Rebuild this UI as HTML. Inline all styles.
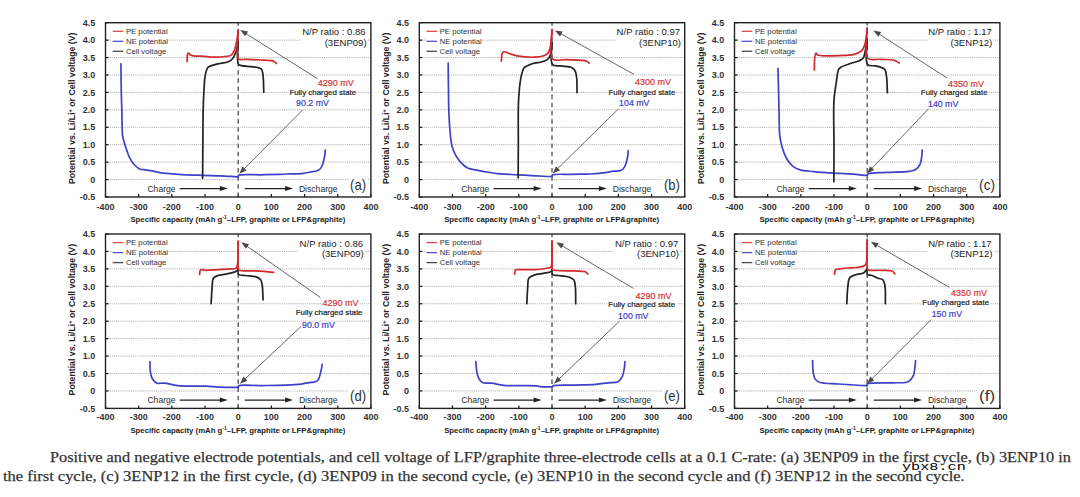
<!DOCTYPE html>
<html><head><meta charset="utf-8"><style>
html,body{margin:0;padding:0;background:#fff;width:1080px;height:497px;overflow:hidden}
svg{position:absolute;left:0;top:0}
svg text{font-family:"Liberation Sans",sans-serif}
.cap{position:absolute;font-family:"Liberation Serif",serif;font-size:15.4px;transform-origin:0 0;color:#333;-webkit-text-stroke:0.25px #333;white-space:nowrap;line-height:19px}
.wm{position:absolute;font-family:"Liberation Mono",monospace;font-size:11px;line-height:15px;transform-origin:0 0;color:#000;white-space:nowrap;text-shadow:0 0 1px #fff,1px 0 0 #fff,-1px 0 0 #fff,0 1px 0 #fff,0 -1px 0 #fff}
</style></head><body>
<svg width="1080" height="497" viewBox="0 0 1080 497">
<line x1="105.5" y1="179.57" x2="370.9" y2="179.57" stroke="#b4b4b4" stroke-width="1" stroke-dasharray="1.2 0.9"/>
<line x1="105.5" y1="162.14" x2="370.9" y2="162.14" stroke="#b4b4b4" stroke-width="1" stroke-dasharray="1.2 0.9"/>
<line x1="105.5" y1="144.71" x2="370.9" y2="144.71" stroke="#b4b4b4" stroke-width="1" stroke-dasharray="1.2 0.9"/>
<line x1="105.5" y1="127.28" x2="370.9" y2="127.28" stroke="#b4b4b4" stroke-width="1" stroke-dasharray="1.2 0.9"/>
<line x1="105.5" y1="109.85" x2="370.9" y2="109.85" stroke="#b4b4b4" stroke-width="1" stroke-dasharray="1.2 0.9"/>
<line x1="105.5" y1="92.42" x2="370.9" y2="92.42" stroke="#b4b4b4" stroke-width="1" stroke-dasharray="1.2 0.9"/>
<line x1="105.5" y1="74.99" x2="370.9" y2="74.99" stroke="#b4b4b4" stroke-width="1" stroke-dasharray="1.2 0.9"/>
<line x1="105.5" y1="57.56" x2="370.9" y2="57.56" stroke="#b4b4b4" stroke-width="1" stroke-dasharray="1.2 0.9"/>
<line x1="105.5" y1="40.13" x2="370.9" y2="40.13" stroke="#b4b4b4" stroke-width="1" stroke-dasharray="1.2 0.9"/>
<line x1="105.5" y1="197" x2="108.5" y2="197" stroke="#111" stroke-width="1.2"/>
<text x="95.3" y="200.2" font-size="9" fill="#333" text-anchor="end" font-weight="bold" >-0.5</text>
<line x1="105.5" y1="179.57" x2="108.5" y2="179.57" stroke="#111" stroke-width="1.2"/>
<text x="95.3" y="182.77" font-size="9" fill="#333" text-anchor="end" font-weight="bold" >0</text>
<line x1="105.5" y1="162.14" x2="108.5" y2="162.14" stroke="#111" stroke-width="1.2"/>
<text x="95.3" y="165.34" font-size="9" fill="#333" text-anchor="end" font-weight="bold" >0.5</text>
<line x1="105.5" y1="144.71" x2="108.5" y2="144.71" stroke="#111" stroke-width="1.2"/>
<text x="95.3" y="147.91" font-size="9" fill="#333" text-anchor="end" font-weight="bold" >1.0</text>
<line x1="105.5" y1="127.28" x2="108.5" y2="127.28" stroke="#111" stroke-width="1.2"/>
<text x="95.3" y="130.48" font-size="9" fill="#333" text-anchor="end" font-weight="bold" >1.5</text>
<line x1="105.5" y1="109.85" x2="108.5" y2="109.85" stroke="#111" stroke-width="1.2"/>
<text x="95.3" y="113.05" font-size="9" fill="#333" text-anchor="end" font-weight="bold" >2.0</text>
<line x1="105.5" y1="92.42" x2="108.5" y2="92.42" stroke="#111" stroke-width="1.2"/>
<text x="95.3" y="95.62" font-size="9" fill="#333" text-anchor="end" font-weight="bold" >2.5</text>
<line x1="105.5" y1="74.99" x2="108.5" y2="74.99" stroke="#111" stroke-width="1.2"/>
<text x="95.3" y="78.19" font-size="9" fill="#333" text-anchor="end" font-weight="bold" >3.0</text>
<line x1="105.5" y1="57.56" x2="108.5" y2="57.56" stroke="#111" stroke-width="1.2"/>
<text x="95.3" y="60.76" font-size="9" fill="#333" text-anchor="end" font-weight="bold" >3.5</text>
<line x1="105.5" y1="40.13" x2="108.5" y2="40.13" stroke="#111" stroke-width="1.2"/>
<text x="95.3" y="43.33" font-size="9" fill="#333" text-anchor="end" font-weight="bold" >4.0</text>
<line x1="105.5" y1="22.7" x2="108.5" y2="22.7" stroke="#111" stroke-width="1.2"/>
<text x="95.3" y="25.9" font-size="9" fill="#333" text-anchor="end" font-weight="bold" >4.5</text>
<line x1="105.5" y1="197" x2="105.5" y2="194" stroke="#111" stroke-width="1.2"/>
<text x="105.5" y="209.8" font-size="9" fill="#333" text-anchor="middle" font-weight="bold" >-400</text>
<line x1="138.68" y1="197" x2="138.68" y2="194" stroke="#111" stroke-width="1.2"/>
<text x="138.68" y="209.8" font-size="9" fill="#333" text-anchor="middle" font-weight="bold" >-300</text>
<line x1="171.85" y1="197" x2="171.85" y2="194" stroke="#111" stroke-width="1.2"/>
<text x="171.85" y="209.8" font-size="9" fill="#333" text-anchor="middle" font-weight="bold" >-200</text>
<line x1="205.02" y1="197" x2="205.02" y2="194" stroke="#111" stroke-width="1.2"/>
<text x="205.02" y="209.8" font-size="9" fill="#333" text-anchor="middle" font-weight="bold" >-100</text>
<line x1="238.2" y1="197" x2="238.2" y2="194" stroke="#111" stroke-width="1.2"/>
<text x="238.2" y="209.8" font-size="9" fill="#333" text-anchor="middle" font-weight="bold" >0</text>
<line x1="271.38" y1="197" x2="271.38" y2="194" stroke="#111" stroke-width="1.2"/>
<text x="271.38" y="209.8" font-size="9" fill="#333" text-anchor="middle" font-weight="bold" >100</text>
<line x1="304.55" y1="197" x2="304.55" y2="194" stroke="#111" stroke-width="1.2"/>
<text x="304.55" y="209.8" font-size="9" fill="#333" text-anchor="middle" font-weight="bold" >200</text>
<line x1="337.73" y1="197" x2="337.73" y2="194" stroke="#111" stroke-width="1.2"/>
<text x="337.73" y="209.8" font-size="9" fill="#333" text-anchor="middle" font-weight="bold" >300</text>
<line x1="370.9" y1="197" x2="370.9" y2="194" stroke="#111" stroke-width="1.2"/>
<text x="370.9" y="209.8" font-size="9" fill="#333" text-anchor="middle" font-weight="bold" >400</text>
<line x1="238.2" y1="197" x2="238.2" y2="22.7" stroke="#555" stroke-width="1.35" stroke-dasharray="4.6 3.55"/>
<path d="M120.89 63.83 C121.03 73.48 121.11 84.29 121.29 92.77 C121.44 99.41 121.68 104.68 121.82 110.55 C121.96 116.3 121.98 123 122.15 127.63 C122.27 130.8 122.22 133.15 122.59 135.65 C122.91 137.88 123.48 139.67 124.11 141.92 C124.86 144.6 125.92 147.87 126.9 150.64 C127.8 153.2 128.53 155.67 129.72 157.96 C130.88 160.2 132.24 162.4 133.9 164.23 C135.54 166.04 137.57 167.97 139.6 168.9 C141.4 169.73 143.31 169.6 145.31 169.91 C147.51 170.26 149.91 170.43 152.28 170.85 C154.77 171.31 156.79 172.1 159.91 172.6 C164.72 173.37 171.9 173.86 178.49 174.31 C185.94 174.81 194.94 175.06 202.37 175.32 C208.86 175.54 214.65 175.55 220.62 175.81 C226.37 176.05 235.67 176.81 237.54 176.82 C237.91 176.82 237.98 176.79 238.2 176.78" fill="none" stroke="#4040c8" stroke-width="1.7" stroke-linejoin="round" stroke-linecap="round"/>
<path d="M238.2 176.78 C238.29 176.29 238 175.71 238.47 175.32 C240.28 173.77 253.89 174.96 261.09 174.79 C267.68 174.64 274.7 174.52 280 174.34 C283.85 174.21 286.4 174.08 289.95 173.92 C294.06 173.74 299.52 173.72 303.22 173.3 C305.93 172.98 307.87 172.44 310.19 172.01 C312.51 171.58 315.34 171.42 317.16 170.72 C318.47 170.21 319.46 169.64 320.31 168.76 C321.19 167.85 321.74 166.59 322.3 165.28 C322.94 163.74 323.37 161.77 323.79 160.05 C324.19 158.4 324.54 156.82 324.79 155.17 C325.04 153.5 325.12 151.8 325.28 150.11" fill="none" stroke="#4040c8" stroke-width="1.7" stroke-linejoin="round" stroke-linecap="round"/>
<path d="M202.6 178.32 C202.69 167.11 202.78 156.01 202.87 144.71 C202.96 133.2 202.91 119.99 203.17 109.85 C203.36 101.99 203.66 94.97 204.03 88.93 C204.31 84.32 204.47 80.22 205.02 76.73 C205.45 74.07 205.95 71.52 206.68 69.76 C207.18 68.57 207.63 67.67 208.44 66.97 C209.28 66.26 210.38 66.02 211.66 65.58 C213.46 64.96 215.85 64.41 218.3 63.83 C221.27 63.13 225.76 62.82 228.25 61.74 C229.97 61 231.06 60.28 232.23 58.95 C233.71 57.27 234.95 54.47 235.88 51.98 C236.85 49.38 237.48 45.23 237.87 43.62 C238.03 42.96 238.09 42.69 238.2 42.22" fill="none" stroke="#222" stroke-width="1.7" stroke-linejoin="round" stroke-linecap="round"/>
<path d="M238.2 42.22 C238.27 49.54 236.49 61.27 238.4 64.18 C239.15 65.33 240.15 65.21 241.52 65.58 C243.86 66.21 248.49 66.23 251.47 66.62 C253.91 66.94 256.3 67.16 258.11 67.67 C259.43 68.05 260.65 68.22 261.42 69.06 C262.27 70 262.43 71.66 262.75 73.25 C263.16 75.26 263.25 77.57 263.41 80.22 C263.63 83.72 263.63 88.35 263.74 92.42" fill="none" stroke="#222" stroke-width="1.7" stroke-linejoin="round" stroke-linecap="round"/>
<path d="M187.11 61.74 C187.17 60.12 187.15 58.35 187.28 56.86 C187.39 55.6 187.32 53.93 187.77 53.38 C188.02 53.08 188.45 52.93 188.77 53.03 C189.23 53.17 189.46 54.32 190.1 54.77 C190.9 55.33 192.04 55.58 193.41 55.82 C195.54 56.19 198.62 55.98 201.71 56.17 C205.62 56.4 210.87 57.19 214.98 57.21 C218.53 57.23 222 56.94 224.93 56.51 C227.28 56.17 229.6 56.32 231.23 55.12 C232.97 53.85 233.93 51.31 234.88 48.84 C236.06 45.81 236.64 41.38 237.2 38.04 C237.69 35.18 237.87 32.69 238.2 30.02" fill="none" stroke="#d2292d" stroke-width="1.7" stroke-linejoin="round" stroke-linecap="round"/>
<path d="M238.2 30.02 C238.27 39.67 235.29 55.69 238.4 58.95 C239.87 60.49 242.23 59.17 244.84 59.3 C248.84 59.5 255.39 59.75 260.1 60 C264.14 60.22 268.93 60.3 271.38 60.7 C272.58 60.89 273.32 61.04 274.03 61.39 C274.58 61.67 274.96 62.08 275.36 62.44 C275.72 62.78 276.02 63.14 276.35 63.49" fill="none" stroke="#d2292d" stroke-width="1.7" stroke-linejoin="round" stroke-linecap="round"/>
<rect x="105.5" y="22.7" width="265.4" height="174.3" fill="none" stroke="#222" stroke-width="1.4"/>
<rect x="112.3" y="27.7" width="55.5" height="26" fill="#fff"/>
<line x1="112.7" y1="31.3" x2="123.3" y2="31.3" stroke="#dc4a4e" stroke-width="1.3"/>
<text x="125.9" y="34.1" font-size="7.74" fill="#333" text-anchor="start" font-weight="normal" >PE potential</text>
<line x1="112.7" y1="41.3" x2="123.3" y2="41.3" stroke="#5252cc" stroke-width="1.3"/>
<text x="125.9" y="44.1" font-size="7.74" fill="#333" text-anchor="start" font-weight="normal" >NE potential</text>
<line x1="112.7" y1="51.3" x2="123.3" y2="51.3" stroke="#4a4a4a" stroke-width="1.3"/>
<text x="125.9" y="54.1" font-size="7.74" fill="#333" text-anchor="start" font-weight="normal" >Cell voltage</text>
<rect x="301.18" y="28.4" width="66.42" height="17.45" fill="#fff"/>
<text x="365.7" y="35.2" font-size="9.55" fill="#222" text-anchor="end" font-weight="normal">N/P ratio : 0.86</text>
<text x="366.6" y="45.5" font-size="9.55" fill="#222" text-anchor="end" font-weight="normal">(3ENP09)</text>
<rect x="317" y="80.1" width="37.63" height="6.2" fill="#fff"/>
<text x="317.8" y="86.1" font-size="9.0" fill="#d8333a" text-anchor="start" font-weight="normal"  stroke="#d8333a" stroke-width="0.2">4290 mV</text>
<rect x="288.6" y="89.4" width="69" height="5.58" fill="#fff"/>
<text x="289.4" y="94.6" font-size="7.92" fill="#222" text-anchor="start" font-weight="normal"  stroke="#222" stroke-width="0.2">Fully charged state</text>
<rect x="295.3" y="100.4" width="34.49" height="6.2" fill="#fff"/>
<text x="296.1" y="106.4" font-size="8.8" fill="#3c3cc8" text-anchor="start" font-weight="normal"  stroke="#3c3cc8" stroke-width="0.2">90.2 mV</text>
<line x1="317.6" y1="78.7" x2="245.7" y2="33.46" stroke="#4a4a4a" stroke-width="0.85"/>
<path d="M240.2 30 L248.04 31.62 L245.06 36.36 Z" fill="#4a4a4a"/>
<line x1="302.6" y1="110" x2="243.78" y2="169.19" stroke="#4a4a4a" stroke-width="0.85"/>
<path d="M239.2 173.8 L242.5 166.51 L246.47 170.45 Z" fill="#4a4a4a"/>
<text x="147.4" y="191.5" font-size="8.6" fill="#2a2a2a" text-anchor="start" font-weight="normal" >Charge</text>
<line x1="179.7" y1="188.6" x2="220.8" y2="188.6" stroke="#222" stroke-width="1.25"/>
<path d="M227.8 188.6 L219.8 191.1 L219.8 186.1 Z" fill="#222"/>
<line x1="244.7" y1="188.6" x2="286.1" y2="188.6" stroke="#222" stroke-width="1.25"/>
<path d="M293.1 188.6 L285.1 191.1 L285.1 186.1 Z" fill="#222"/>
<text x="298.9" y="191.5" font-size="8.6" fill="#2a2a2a" text-anchor="start" font-weight="normal" >Discharge</text>
<rect x="348.4" y="177.5" width="19" height="5" fill="#fff"/>
<text x="358.1" y="190" font-size="14.2" fill="#333" text-anchor="middle" font-weight="normal" textLength="16" lengthAdjust="spacingAndGlyphs">(a)</text>
<text x="237.9" y="221.6" font-size="8.0" fill="#222" text-anchor="middle" font-weight="bold" textLength="215" lengthAdjust="spacingAndGlyphs">Specific capacity (mAh g<tspan dy="-2.6" font-size="5.2">-1</tspan><tspan dy="2.6">–</tspan>LFP, graphite or LFP&amp;graphite)</text>
<text transform="translate(75 108.35) rotate(-90)" font-size="8.72" fill="#222" text-anchor="middle" font-weight="bold">Potential vs. Li/Li<tspan baseline-shift="super" font-size="5.5">+</tspan> or Cell voltage (V)</text>
<line x1="419.3" y1="179.57" x2="684.7" y2="179.57" stroke="#b4b4b4" stroke-width="1" stroke-dasharray="1.2 0.9"/>
<line x1="419.3" y1="162.14" x2="684.7" y2="162.14" stroke="#b4b4b4" stroke-width="1" stroke-dasharray="1.2 0.9"/>
<line x1="419.3" y1="144.71" x2="684.7" y2="144.71" stroke="#b4b4b4" stroke-width="1" stroke-dasharray="1.2 0.9"/>
<line x1="419.3" y1="127.28" x2="684.7" y2="127.28" stroke="#b4b4b4" stroke-width="1" stroke-dasharray="1.2 0.9"/>
<line x1="419.3" y1="109.85" x2="684.7" y2="109.85" stroke="#b4b4b4" stroke-width="1" stroke-dasharray="1.2 0.9"/>
<line x1="419.3" y1="92.42" x2="684.7" y2="92.42" stroke="#b4b4b4" stroke-width="1" stroke-dasharray="1.2 0.9"/>
<line x1="419.3" y1="74.99" x2="684.7" y2="74.99" stroke="#b4b4b4" stroke-width="1" stroke-dasharray="1.2 0.9"/>
<line x1="419.3" y1="57.56" x2="684.7" y2="57.56" stroke="#b4b4b4" stroke-width="1" stroke-dasharray="1.2 0.9"/>
<line x1="419.3" y1="40.13" x2="684.7" y2="40.13" stroke="#b4b4b4" stroke-width="1" stroke-dasharray="1.2 0.9"/>
<line x1="419.3" y1="197" x2="422.3" y2="197" stroke="#111" stroke-width="1.2"/>
<text x="409.1" y="200.2" font-size="9" fill="#333" text-anchor="end" font-weight="bold" >-0.5</text>
<line x1="419.3" y1="179.57" x2="422.3" y2="179.57" stroke="#111" stroke-width="1.2"/>
<text x="409.1" y="182.77" font-size="9" fill="#333" text-anchor="end" font-weight="bold" >0</text>
<line x1="419.3" y1="162.14" x2="422.3" y2="162.14" stroke="#111" stroke-width="1.2"/>
<text x="409.1" y="165.34" font-size="9" fill="#333" text-anchor="end" font-weight="bold" >0.5</text>
<line x1="419.3" y1="144.71" x2="422.3" y2="144.71" stroke="#111" stroke-width="1.2"/>
<text x="409.1" y="147.91" font-size="9" fill="#333" text-anchor="end" font-weight="bold" >1.0</text>
<line x1="419.3" y1="127.28" x2="422.3" y2="127.28" stroke="#111" stroke-width="1.2"/>
<text x="409.1" y="130.48" font-size="9" fill="#333" text-anchor="end" font-weight="bold" >1.5</text>
<line x1="419.3" y1="109.85" x2="422.3" y2="109.85" stroke="#111" stroke-width="1.2"/>
<text x="409.1" y="113.05" font-size="9" fill="#333" text-anchor="end" font-weight="bold" >2.0</text>
<line x1="419.3" y1="92.42" x2="422.3" y2="92.42" stroke="#111" stroke-width="1.2"/>
<text x="409.1" y="95.62" font-size="9" fill="#333" text-anchor="end" font-weight="bold" >2.5</text>
<line x1="419.3" y1="74.99" x2="422.3" y2="74.99" stroke="#111" stroke-width="1.2"/>
<text x="409.1" y="78.19" font-size="9" fill="#333" text-anchor="end" font-weight="bold" >3.0</text>
<line x1="419.3" y1="57.56" x2="422.3" y2="57.56" stroke="#111" stroke-width="1.2"/>
<text x="409.1" y="60.76" font-size="9" fill="#333" text-anchor="end" font-weight="bold" >3.5</text>
<line x1="419.3" y1="40.13" x2="422.3" y2="40.13" stroke="#111" stroke-width="1.2"/>
<text x="409.1" y="43.33" font-size="9" fill="#333" text-anchor="end" font-weight="bold" >4.0</text>
<line x1="419.3" y1="22.7" x2="422.3" y2="22.7" stroke="#111" stroke-width="1.2"/>
<text x="409.1" y="25.9" font-size="9" fill="#333" text-anchor="end" font-weight="bold" >4.5</text>
<line x1="419.3" y1="197" x2="419.3" y2="194" stroke="#111" stroke-width="1.2"/>
<text x="419.3" y="209.8" font-size="9" fill="#333" text-anchor="middle" font-weight="bold" >-400</text>
<line x1="452.48" y1="197" x2="452.48" y2="194" stroke="#111" stroke-width="1.2"/>
<text x="452.48" y="209.8" font-size="9" fill="#333" text-anchor="middle" font-weight="bold" >-300</text>
<line x1="485.65" y1="197" x2="485.65" y2="194" stroke="#111" stroke-width="1.2"/>
<text x="485.65" y="209.8" font-size="9" fill="#333" text-anchor="middle" font-weight="bold" >-200</text>
<line x1="518.83" y1="197" x2="518.83" y2="194" stroke="#111" stroke-width="1.2"/>
<text x="518.83" y="209.8" font-size="9" fill="#333" text-anchor="middle" font-weight="bold" >-100</text>
<line x1="552" y1="197" x2="552" y2="194" stroke="#111" stroke-width="1.2"/>
<text x="552" y="209.8" font-size="9" fill="#333" text-anchor="middle" font-weight="bold" >0</text>
<line x1="585.17" y1="197" x2="585.17" y2="194" stroke="#111" stroke-width="1.2"/>
<text x="585.17" y="209.8" font-size="9" fill="#333" text-anchor="middle" font-weight="bold" >100</text>
<line x1="618.35" y1="197" x2="618.35" y2="194" stroke="#111" stroke-width="1.2"/>
<text x="618.35" y="209.8" font-size="9" fill="#333" text-anchor="middle" font-weight="bold" >200</text>
<line x1="651.52" y1="197" x2="651.52" y2="194" stroke="#111" stroke-width="1.2"/>
<text x="651.52" y="209.8" font-size="9" fill="#333" text-anchor="middle" font-weight="bold" >300</text>
<line x1="684.7" y1="197" x2="684.7" y2="194" stroke="#111" stroke-width="1.2"/>
<text x="684.7" y="209.8" font-size="9" fill="#333" text-anchor="middle" font-weight="bold" >400</text>
<line x1="552" y1="197" x2="552" y2="22.7" stroke="#555" stroke-width="1.35" stroke-dasharray="4.6 3.55"/>
<path d="M448.16 63.14 C448.27 72.9 448.37 83.92 448.49 92.42 C448.59 98.98 448.59 104.04 448.79 109.85 C448.99 115.66 449.31 122.16 449.69 127.28 C449.98 131.31 450.28 134.71 450.72 138.09 C451.11 141.1 451.32 143.79 452.11 146.59 C452.93 149.49 454.15 152.53 455.59 155.17 C456.97 157.7 458.56 160.03 460.5 162.14 C462.53 164.34 464.91 166.73 467.6 168.07 C470.31 169.41 473.49 169.49 476.69 170.16 C480.25 170.9 484.16 171.65 488.01 172.25 C491.96 172.87 495.68 173.41 500.11 173.82 C505.47 174.31 511.97 174.46 517.9 174.79 C523.83 175.13 530 175.51 535.71 175.81 C541 176.08 548.93 176.53 551 176.5 C551.53 176.5 551.67 176.46 552 176.43" fill="none" stroke="#4040c8" stroke-width="1.7" stroke-linejoin="round" stroke-linecap="round"/>
<path d="M552 176.43 C552.06 175.99 551.77 175.47 552.17 175.11 C553.67 173.72 564.98 174.49 571.41 174.31 C577.86 174.12 584.83 174.31 590.81 173.99 C595.98 173.72 601.11 173.26 605.21 172.7 C608.31 172.28 610.7 171.54 613.31 171.2 C615.72 170.89 618.52 171.28 620.31 170.68 C621.58 170.26 622.47 169.62 623.29 168.76 C624.17 167.85 624.74 166.59 625.32 165.28 C625.98 163.74 626.47 161.77 626.91 160.05 C627.33 158.4 627.69 156.77 627.9 155.17 C628.11 153.64 628.1 152.15 628.2 150.64" fill="none" stroke="#4040c8" stroke-width="1.7" stroke-linejoin="round" stroke-linecap="round"/>
<path d="M518.16 177.83 C518.22 166.79 518.26 156.57 518.33 144.71 C518.4 130.94 517.9 112.51 518.59 100.09 C519.09 91.15 519.75 83.01 521.01 77.08 C521.85 73.2 522.76 69.33 524.1 67.67 C524.81 66.79 525.48 66.79 526.49 66.28 C528.07 65.47 530.43 64.22 532.79 63.49 C535.57 62.63 539.53 62.57 542.21 61.74 C544.34 61.09 546.39 60.43 547.72 59.3 C548.83 58.36 549.43 57.25 550.01 55.82 C550.76 53.95 550.97 51.11 551.3 48.84 C551.62 46.7 551.77 44.66 552 42.57" fill="none" stroke="#222" stroke-width="1.7" stroke-linejoin="round" stroke-linecap="round"/>
<path d="M552 42.57 C552.13 49.89 549.55 61.25 552.4 64.53 C554.19 66.6 557.95 65.44 560.99 65.93 C564.43 66.48 569.57 66.43 572 67.67 C573.54 68.45 574.36 69.39 575.12 70.81 C576.14 72.7 576.38 75.51 576.72 78.48 C577.17 82.49 576.91 88 577.01 92.77" fill="none" stroke="#222" stroke-width="1.7" stroke-linejoin="round" stroke-linecap="round"/>
<path d="M501.41 61.19 C501.66 58.58 501.45 54.92 502.17 53.38 C502.55 52.56 502.92 52 503.7 51.81 C505.14 51.45 508.37 53.36 510.8 54.07 C513.33 54.82 515.51 55.66 518.59 56.17 C522.89 56.88 529.71 57.39 534.28 57.21 C537.86 57.07 541.39 56.7 543.81 55.82 C545.48 55.2 546.7 54.5 547.72 53.38 C548.79 52.2 549.44 50.69 550.01 48.84 C550.79 46.33 550.97 42.6 551.3 39.43 C551.64 36.21 551.77 32.93 552 29.67" fill="none" stroke="#d2292d" stroke-width="1.7" stroke-linejoin="round" stroke-linecap="round"/>
<path d="M552 29.67 C552.13 39.43 548.42 54.82 552.4 58.95 C555.08 61.74 561.08 59.43 565.7 59.65 C570.72 59.89 577.7 59.99 581.39 60.35 C583.43 60.54 584.74 60.52 586.1 61.05 C587.33 61.51 588.23 62.44 589.29 63.14" fill="none" stroke="#d2292d" stroke-width="1.7" stroke-linejoin="round" stroke-linecap="round"/>
<rect x="419.3" y="22.7" width="265.4" height="174.3" fill="none" stroke="#222" stroke-width="1.4"/>
<rect x="426.1" y="27.7" width="55.5" height="26" fill="#fff"/>
<line x1="426.5" y1="31.3" x2="437.1" y2="31.3" stroke="#dc4a4e" stroke-width="1.3"/>
<text x="439.7" y="34.1" font-size="7.74" fill="#333" text-anchor="start" font-weight="normal" >PE potential</text>
<line x1="426.5" y1="41.3" x2="437.1" y2="41.3" stroke="#5252cc" stroke-width="1.3"/>
<text x="439.7" y="44.1" font-size="7.74" fill="#333" text-anchor="start" font-weight="normal" >NE potential</text>
<line x1="426.5" y1="51.3" x2="437.1" y2="51.3" stroke="#4a4a4a" stroke-width="1.3"/>
<text x="439.7" y="54.1" font-size="7.74" fill="#333" text-anchor="start" font-weight="normal" >Cell voltage</text>
<rect x="615.58" y="28.4" width="66.42" height="17.45" fill="#fff"/>
<text x="680.1" y="35.2" font-size="9.55" fill="#222" text-anchor="end" font-weight="normal">N/P ratio : 0.97</text>
<text x="681" y="45.5" font-size="9.55" fill="#222" text-anchor="end" font-weight="normal">(3ENP10)</text>
<rect x="634.1" y="78.7" width="37.63" height="6.2" fill="#fff"/>
<text x="634.9" y="84.7" font-size="9.0" fill="#d8333a" text-anchor="start" font-weight="normal"  stroke="#d8333a" stroke-width="0.2">4300 mV</text>
<rect x="607.7" y="89.3" width="69" height="5.58" fill="#fff"/>
<text x="608.5" y="94.5" font-size="7.92" fill="#222" text-anchor="start" font-weight="normal"  stroke="#222" stroke-width="0.2">Fully charged state</text>
<rect x="618.3" y="100.4" width="32.05" height="6.2" fill="#fff"/>
<text x="619.1" y="106.4" font-size="8.8" fill="#3c3cc8" text-anchor="start" font-weight="normal"  stroke="#3c3cc8" stroke-width="0.2">104 mV</text>
<line x1="633.8" y1="74.3" x2="560.48" y2="33.56" stroke="#4a4a4a" stroke-width="0.85"/>
<path d="M554.8 30.4 L562.72 31.6 L560 36.49 Z" fill="#4a4a4a"/>
<line x1="618.5" y1="108.8" x2="557.33" y2="168.94" stroke="#4a4a4a" stroke-width="0.85"/>
<path d="M552.7 173.5 L556.08 166.25 L560.01 170.24 Z" fill="#4a4a4a"/>
<text x="461.2" y="191.5" font-size="8.6" fill="#2a2a2a" text-anchor="start" font-weight="normal" >Charge</text>
<line x1="493.5" y1="188.6" x2="534.6" y2="188.6" stroke="#222" stroke-width="1.25"/>
<path d="M541.6 188.6 L533.6 191.1 L533.6 186.1 Z" fill="#222"/>
<line x1="558.5" y1="188.6" x2="599.9" y2="188.6" stroke="#222" stroke-width="1.25"/>
<path d="M606.9 188.6 L598.9 191.1 L598.9 186.1 Z" fill="#222"/>
<text x="612.7" y="191.5" font-size="8.6" fill="#2a2a2a" text-anchor="start" font-weight="normal" >Discharge</text>
<rect x="662.2" y="177.5" width="19" height="5" fill="#fff"/>
<text x="671.9" y="190" font-size="14.2" fill="#333" text-anchor="middle" font-weight="normal" textLength="16" lengthAdjust="spacingAndGlyphs">(b)</text>
<text x="551.7" y="221.6" font-size="8.0" fill="#222" text-anchor="middle" font-weight="bold" textLength="215" lengthAdjust="spacingAndGlyphs">Specific capacity (mAh g<tspan dy="-2.6" font-size="5.2">-1</tspan><tspan dy="2.6">–</tspan>LFP, graphite or LFP&amp;graphite)</text>
<text transform="translate(388.8 108.35) rotate(-90)" font-size="8.72" fill="#222" text-anchor="middle" font-weight="bold">Potential vs. Li/Li<tspan baseline-shift="super" font-size="5.5">+</tspan> or Cell voltage (V)</text>
<line x1="734.5" y1="179.57" x2="999.9" y2="179.57" stroke="#b4b4b4" stroke-width="1" stroke-dasharray="1.2 0.9"/>
<line x1="734.5" y1="162.14" x2="999.9" y2="162.14" stroke="#b4b4b4" stroke-width="1" stroke-dasharray="1.2 0.9"/>
<line x1="734.5" y1="144.71" x2="999.9" y2="144.71" stroke="#b4b4b4" stroke-width="1" stroke-dasharray="1.2 0.9"/>
<line x1="734.5" y1="127.28" x2="999.9" y2="127.28" stroke="#b4b4b4" stroke-width="1" stroke-dasharray="1.2 0.9"/>
<line x1="734.5" y1="109.85" x2="999.9" y2="109.85" stroke="#b4b4b4" stroke-width="1" stroke-dasharray="1.2 0.9"/>
<line x1="734.5" y1="92.42" x2="999.9" y2="92.42" stroke="#b4b4b4" stroke-width="1" stroke-dasharray="1.2 0.9"/>
<line x1="734.5" y1="74.99" x2="999.9" y2="74.99" stroke="#b4b4b4" stroke-width="1" stroke-dasharray="1.2 0.9"/>
<line x1="734.5" y1="57.56" x2="999.9" y2="57.56" stroke="#b4b4b4" stroke-width="1" stroke-dasharray="1.2 0.9"/>
<line x1="734.5" y1="40.13" x2="999.9" y2="40.13" stroke="#b4b4b4" stroke-width="1" stroke-dasharray="1.2 0.9"/>
<line x1="734.5" y1="197" x2="737.5" y2="197" stroke="#111" stroke-width="1.2"/>
<text x="724.3" y="200.2" font-size="9" fill="#333" text-anchor="end" font-weight="bold" >-0.5</text>
<line x1="734.5" y1="179.57" x2="737.5" y2="179.57" stroke="#111" stroke-width="1.2"/>
<text x="724.3" y="182.77" font-size="9" fill="#333" text-anchor="end" font-weight="bold" >0</text>
<line x1="734.5" y1="162.14" x2="737.5" y2="162.14" stroke="#111" stroke-width="1.2"/>
<text x="724.3" y="165.34" font-size="9" fill="#333" text-anchor="end" font-weight="bold" >0.5</text>
<line x1="734.5" y1="144.71" x2="737.5" y2="144.71" stroke="#111" stroke-width="1.2"/>
<text x="724.3" y="147.91" font-size="9" fill="#333" text-anchor="end" font-weight="bold" >1.0</text>
<line x1="734.5" y1="127.28" x2="737.5" y2="127.28" stroke="#111" stroke-width="1.2"/>
<text x="724.3" y="130.48" font-size="9" fill="#333" text-anchor="end" font-weight="bold" >1.5</text>
<line x1="734.5" y1="109.85" x2="737.5" y2="109.85" stroke="#111" stroke-width="1.2"/>
<text x="724.3" y="113.05" font-size="9" fill="#333" text-anchor="end" font-weight="bold" >2.0</text>
<line x1="734.5" y1="92.42" x2="737.5" y2="92.42" stroke="#111" stroke-width="1.2"/>
<text x="724.3" y="95.62" font-size="9" fill="#333" text-anchor="end" font-weight="bold" >2.5</text>
<line x1="734.5" y1="74.99" x2="737.5" y2="74.99" stroke="#111" stroke-width="1.2"/>
<text x="724.3" y="78.19" font-size="9" fill="#333" text-anchor="end" font-weight="bold" >3.0</text>
<line x1="734.5" y1="57.56" x2="737.5" y2="57.56" stroke="#111" stroke-width="1.2"/>
<text x="724.3" y="60.76" font-size="9" fill="#333" text-anchor="end" font-weight="bold" >3.5</text>
<line x1="734.5" y1="40.13" x2="737.5" y2="40.13" stroke="#111" stroke-width="1.2"/>
<text x="724.3" y="43.33" font-size="9" fill="#333" text-anchor="end" font-weight="bold" >4.0</text>
<line x1="734.5" y1="22.7" x2="737.5" y2="22.7" stroke="#111" stroke-width="1.2"/>
<text x="724.3" y="25.9" font-size="9" fill="#333" text-anchor="end" font-weight="bold" >4.5</text>
<line x1="734.5" y1="197" x2="734.5" y2="194" stroke="#111" stroke-width="1.2"/>
<text x="734.5" y="209.8" font-size="9" fill="#333" text-anchor="middle" font-weight="bold" >-400</text>
<line x1="767.67" y1="197" x2="767.67" y2="194" stroke="#111" stroke-width="1.2"/>
<text x="767.67" y="209.8" font-size="9" fill="#333" text-anchor="middle" font-weight="bold" >-300</text>
<line x1="800.85" y1="197" x2="800.85" y2="194" stroke="#111" stroke-width="1.2"/>
<text x="800.85" y="209.8" font-size="9" fill="#333" text-anchor="middle" font-weight="bold" >-200</text>
<line x1="834.02" y1="197" x2="834.02" y2="194" stroke="#111" stroke-width="1.2"/>
<text x="834.02" y="209.8" font-size="9" fill="#333" text-anchor="middle" font-weight="bold" >-100</text>
<line x1="867.2" y1="197" x2="867.2" y2="194" stroke="#111" stroke-width="1.2"/>
<text x="867.2" y="209.8" font-size="9" fill="#333" text-anchor="middle" font-weight="bold" >0</text>
<line x1="900.38" y1="197" x2="900.38" y2="194" stroke="#111" stroke-width="1.2"/>
<text x="900.38" y="209.8" font-size="9" fill="#333" text-anchor="middle" font-weight="bold" >100</text>
<line x1="933.55" y1="197" x2="933.55" y2="194" stroke="#111" stroke-width="1.2"/>
<text x="933.55" y="209.8" font-size="9" fill="#333" text-anchor="middle" font-weight="bold" >200</text>
<line x1="966.73" y1="197" x2="966.73" y2="194" stroke="#111" stroke-width="1.2"/>
<text x="966.73" y="209.8" font-size="9" fill="#333" text-anchor="middle" font-weight="bold" >300</text>
<line x1="999.9" y1="197" x2="999.9" y2="194" stroke="#111" stroke-width="1.2"/>
<text x="999.9" y="209.8" font-size="9" fill="#333" text-anchor="middle" font-weight="bold" >400</text>
<line x1="867.2" y1="197" x2="867.2" y2="22.7" stroke="#555" stroke-width="1.35" stroke-dasharray="4.6 3.55"/>
<path d="M777.99 68.37 C778.22 77.66 778.48 87.3 778.69 96.25 C778.88 104.57 778.99 113.28 779.19 120.31 C779.34 125.79 779.15 130.31 779.68 134.95 C780.18 139.22 780.92 143.17 782.11 147.15 C783.31 151.19 784.88 155.66 786.88 159 C788.61 161.89 790.65 164.48 792.99 166.32 C795.13 168.02 797.33 169.05 800.19 169.91 C803.87 171.02 808.81 171.09 813.49 171.55 C818.69 172.07 826.41 172.54 830.01 172.81 C831.75 172.94 832.1 172.97 833.89 173.09 C837.89 173.34 847.5 173.78 853.3 174.2 C858.01 174.54 864.17 175.33 866.11 175.32 C866.67 175.31 866.84 175.25 867.2 175.21" fill="none" stroke="#4040c8" stroke-width="1.7" stroke-linejoin="round" stroke-linecap="round"/>
<path d="M867.2 175.21 C867.4 174.81 867.28 174.34 867.8 173.99 C869.71 172.68 880.15 172.86 886.71 172.42 C893.81 171.96 903.69 172.19 908.9 171.34 C911.82 170.87 913.74 170.64 915.6 169.46 C917.43 168.31 919 166.42 920.01 164.41 C921.11 162.22 921.34 159.19 921.71 156.7 C922.04 154.4 922.04 152.24 922.2 150.01" fill="none" stroke="#4040c8" stroke-width="1.7" stroke-linejoin="round" stroke-linecap="round"/>
<path d="M833.89 181.66 C833.93 169.34 833.97 157.61 833.99 144.71 C834.01 130.54 833.23 111.72 833.99 100.09 C834.48 92.58 835.52 87.17 836.41 81.61 C837.15 77.02 837.33 71.5 838.8 69.06 C839.62 67.71 840.52 67.39 841.89 66.62 C843.97 65.46 847.69 64.44 850.51 63.49 C853.19 62.59 856.17 62.04 858.41 61.05 C860.23 60.24 861.95 59.74 863.09 58.26 C864.49 56.43 864.78 53.04 865.38 50.24 C866.01 47.25 866.28 42.56 866.7 40.83 C866.87 40.14 867.03 39.9 867.2 39.43" fill="none" stroke="#222" stroke-width="1.7" stroke-linejoin="round" stroke-linecap="round"/>
<path d="M867.2 39.43 C867.31 47.8 864.5 60.97 867.53 64.53 C869.27 66.56 873.08 65.36 875.59 65.93 C877.84 66.43 880.22 66.89 881.9 67.67 C883.16 68.26 884.22 68.64 884.98 69.76 C886.06 71.35 886.21 74.16 886.61 77.08 C887.18 81.31 887.14 87.54 887.4 92.77" fill="none" stroke="#222" stroke-width="1.7" stroke-linejoin="round" stroke-linecap="round"/>
<path d="M814.39 69.9 C814.48 66.02 814.26 61.35 814.68 58.26 C814.97 56.15 815.38 53.16 816.01 53.03 C816.45 52.94 816.66 54.61 817.6 55.12 C819.52 56.15 824.52 55.73 828.48 55.82 C833.24 55.92 839.45 55.82 844.21 55.47 C848.21 55.17 852.1 55.01 855.19 54.07 C857.65 53.33 859.91 52.45 861.49 50.94 C863 49.5 863.85 47.43 864.61 45.36 C865.45 43.07 865.69 40.4 866.11 37.69 C866.57 34.68 866.84 31.3 867.2 28.1" fill="none" stroke="#d2292d" stroke-width="1.7" stroke-linejoin="round" stroke-linecap="round"/>
<path d="M867.2 28.1 C867.37 38.15 863.68 53.97 867.7 58.26 C870.31 61.04 876.06 58.96 880.4 59.3 C884.98 59.66 891.14 59.29 894.5 60.35 C896.59 61.01 897.64 62.21 899.21 63.14" fill="none" stroke="#d2292d" stroke-width="1.7" stroke-linejoin="round" stroke-linecap="round"/>
<rect x="734.5" y="22.7" width="265.4" height="174.3" fill="none" stroke="#222" stroke-width="1.4"/>
<rect x="741.3" y="27.7" width="55.5" height="26" fill="#fff"/>
<line x1="741.7" y1="31.3" x2="752.3" y2="31.3" stroke="#dc4a4e" stroke-width="1.3"/>
<text x="754.9" y="34.1" font-size="7.74" fill="#333" text-anchor="start" font-weight="normal" >PE potential</text>
<line x1="741.7" y1="41.3" x2="752.3" y2="41.3" stroke="#5252cc" stroke-width="1.3"/>
<text x="754.9" y="44.1" font-size="7.74" fill="#333" text-anchor="start" font-weight="normal" >NE potential</text>
<line x1="741.7" y1="51.3" x2="752.3" y2="51.3" stroke="#4a4a4a" stroke-width="1.3"/>
<text x="754.9" y="54.1" font-size="7.74" fill="#333" text-anchor="start" font-weight="normal" >Cell voltage</text>
<rect x="927.28" y="28.4" width="66.02" height="17.45" fill="#fff"/>
<text x="991.8" y="35.2" font-size="9.55" fill="#222" text-anchor="end" font-weight="normal">N/P ratio : 1.17</text>
<text x="992.3" y="45.5" font-size="9.55" fill="#222" text-anchor="end" font-weight="normal">(3ENP12)</text>
<rect x="947.3" y="80.5" width="37.63" height="6.2" fill="#fff"/>
<text x="948.1" y="86.5" font-size="9.0" fill="#d8333a" text-anchor="start" font-weight="normal"  stroke="#d8333a" stroke-width="0.2">4350 mV</text>
<rect x="920" y="89.3" width="69" height="5.58" fill="#fff"/>
<text x="920.8" y="94.5" font-size="7.92" fill="#222" text-anchor="start" font-weight="normal"  stroke="#222" stroke-width="0.2">Fully charged state</text>
<rect x="927.2" y="100.8" width="32.05" height="6.2" fill="#fff"/>
<text x="928" y="106.8" font-size="8.8" fill="#3c3cc8" text-anchor="start" font-weight="normal"  stroke="#3c3cc8" stroke-width="0.2">140 mV</text>
<line x1="947" y1="78" x2="878.86" y2="33.93" stroke="#4a4a4a" stroke-width="0.85"/>
<path d="M873.4 30.4 L881.22 32.12 L878.18 36.82 Z" fill="#4a4a4a"/>
<line x1="928.5" y1="108.8" x2="871.48" y2="168.79" stroke="#4a4a4a" stroke-width="0.85"/>
<path d="M867 173.5 L870.14 166.13 L874.2 169.99 Z" fill="#4a4a4a"/>
<text x="776.4" y="191.5" font-size="8.6" fill="#2a2a2a" text-anchor="start" font-weight="normal" >Charge</text>
<line x1="808.7" y1="188.6" x2="849.8" y2="188.6" stroke="#222" stroke-width="1.25"/>
<path d="M856.8 188.6 L848.8 191.1 L848.8 186.1 Z" fill="#222"/>
<line x1="873.7" y1="188.6" x2="915.1" y2="188.6" stroke="#222" stroke-width="1.25"/>
<path d="M922.1 188.6 L914.1 191.1 L914.1 186.1 Z" fill="#222"/>
<text x="927.9" y="191.5" font-size="8.6" fill="#2a2a2a" text-anchor="start" font-weight="normal" >Discharge</text>
<rect x="977.4" y="177.5" width="19" height="5" fill="#fff"/>
<text x="987.1" y="190" font-size="14.2" fill="#333" text-anchor="middle" font-weight="normal" textLength="16" lengthAdjust="spacingAndGlyphs">(c)</text>
<text x="866.9" y="221.6" font-size="8.0" fill="#222" text-anchor="middle" font-weight="bold" textLength="215" lengthAdjust="spacingAndGlyphs">Specific capacity (mAh g<tspan dy="-2.6" font-size="5.2">-1</tspan><tspan dy="2.6">–</tspan>LFP, graphite or LFP&amp;graphite)</text>
<text transform="translate(704 108.35) rotate(-90)" font-size="8.72" fill="#222" text-anchor="middle" font-weight="bold">Potential vs. Li/Li<tspan baseline-shift="super" font-size="5.5">+</tspan> or Cell voltage (V)</text>
<line x1="105.5" y1="390.96" x2="370.9" y2="390.96" stroke="#b4b4b4" stroke-width="1" stroke-dasharray="1.2 0.9"/>
<line x1="105.5" y1="373.52" x2="370.9" y2="373.52" stroke="#b4b4b4" stroke-width="1" stroke-dasharray="1.2 0.9"/>
<line x1="105.5" y1="356.08" x2="370.9" y2="356.08" stroke="#b4b4b4" stroke-width="1" stroke-dasharray="1.2 0.9"/>
<line x1="105.5" y1="338.64" x2="370.9" y2="338.64" stroke="#b4b4b4" stroke-width="1" stroke-dasharray="1.2 0.9"/>
<line x1="105.5" y1="321.2" x2="370.9" y2="321.2" stroke="#b4b4b4" stroke-width="1" stroke-dasharray="1.2 0.9"/>
<line x1="105.5" y1="303.76" x2="370.9" y2="303.76" stroke="#b4b4b4" stroke-width="1" stroke-dasharray="1.2 0.9"/>
<line x1="105.5" y1="286.32" x2="370.9" y2="286.32" stroke="#b4b4b4" stroke-width="1" stroke-dasharray="1.2 0.9"/>
<line x1="105.5" y1="268.88" x2="370.9" y2="268.88" stroke="#b4b4b4" stroke-width="1" stroke-dasharray="1.2 0.9"/>
<line x1="105.5" y1="251.44" x2="370.9" y2="251.44" stroke="#b4b4b4" stroke-width="1" stroke-dasharray="1.2 0.9"/>
<line x1="105.5" y1="408.4" x2="108.5" y2="408.4" stroke="#111" stroke-width="1.2"/>
<text x="95.3" y="411.6" font-size="9" fill="#333" text-anchor="end" font-weight="bold" >-0.5</text>
<line x1="105.5" y1="390.96" x2="108.5" y2="390.96" stroke="#111" stroke-width="1.2"/>
<text x="95.3" y="394.16" font-size="9" fill="#333" text-anchor="end" font-weight="bold" >0</text>
<line x1="105.5" y1="373.52" x2="108.5" y2="373.52" stroke="#111" stroke-width="1.2"/>
<text x="95.3" y="376.72" font-size="9" fill="#333" text-anchor="end" font-weight="bold" >0.5</text>
<line x1="105.5" y1="356.08" x2="108.5" y2="356.08" stroke="#111" stroke-width="1.2"/>
<text x="95.3" y="359.28" font-size="9" fill="#333" text-anchor="end" font-weight="bold" >1.0</text>
<line x1="105.5" y1="338.64" x2="108.5" y2="338.64" stroke="#111" stroke-width="1.2"/>
<text x="95.3" y="341.84" font-size="9" fill="#333" text-anchor="end" font-weight="bold" >1.5</text>
<line x1="105.5" y1="321.2" x2="108.5" y2="321.2" stroke="#111" stroke-width="1.2"/>
<text x="95.3" y="324.4" font-size="9" fill="#333" text-anchor="end" font-weight="bold" >2.0</text>
<line x1="105.5" y1="303.76" x2="108.5" y2="303.76" stroke="#111" stroke-width="1.2"/>
<text x="95.3" y="306.96" font-size="9" fill="#333" text-anchor="end" font-weight="bold" >2.5</text>
<line x1="105.5" y1="286.32" x2="108.5" y2="286.32" stroke="#111" stroke-width="1.2"/>
<text x="95.3" y="289.52" font-size="9" fill="#333" text-anchor="end" font-weight="bold" >3.0</text>
<line x1="105.5" y1="268.88" x2="108.5" y2="268.88" stroke="#111" stroke-width="1.2"/>
<text x="95.3" y="272.08" font-size="9" fill="#333" text-anchor="end" font-weight="bold" >3.5</text>
<line x1="105.5" y1="251.44" x2="108.5" y2="251.44" stroke="#111" stroke-width="1.2"/>
<text x="95.3" y="254.64" font-size="9" fill="#333" text-anchor="end" font-weight="bold" >4.0</text>
<line x1="105.5" y1="234" x2="108.5" y2="234" stroke="#111" stroke-width="1.2"/>
<text x="95.3" y="237.2" font-size="9" fill="#333" text-anchor="end" font-weight="bold" >4.5</text>
<line x1="105.5" y1="408.4" x2="105.5" y2="405.4" stroke="#111" stroke-width="1.2"/>
<text x="105.5" y="420.4" font-size="9" fill="#333" text-anchor="middle" font-weight="bold" >-400</text>
<line x1="138.68" y1="408.4" x2="138.68" y2="405.4" stroke="#111" stroke-width="1.2"/>
<text x="138.68" y="420.4" font-size="9" fill="#333" text-anchor="middle" font-weight="bold" >-300</text>
<line x1="171.85" y1="408.4" x2="171.85" y2="405.4" stroke="#111" stroke-width="1.2"/>
<text x="171.85" y="420.4" font-size="9" fill="#333" text-anchor="middle" font-weight="bold" >-200</text>
<line x1="205.02" y1="408.4" x2="205.02" y2="405.4" stroke="#111" stroke-width="1.2"/>
<text x="205.02" y="420.4" font-size="9" fill="#333" text-anchor="middle" font-weight="bold" >-100</text>
<line x1="238.2" y1="408.4" x2="238.2" y2="405.4" stroke="#111" stroke-width="1.2"/>
<text x="238.2" y="420.4" font-size="9" fill="#333" text-anchor="middle" font-weight="bold" >0</text>
<line x1="271.38" y1="408.4" x2="271.38" y2="405.4" stroke="#111" stroke-width="1.2"/>
<text x="271.38" y="420.4" font-size="9" fill="#333" text-anchor="middle" font-weight="bold" >100</text>
<line x1="304.55" y1="408.4" x2="304.55" y2="405.4" stroke="#111" stroke-width="1.2"/>
<text x="304.55" y="420.4" font-size="9" fill="#333" text-anchor="middle" font-weight="bold" >200</text>
<line x1="337.73" y1="408.4" x2="337.73" y2="405.4" stroke="#111" stroke-width="1.2"/>
<text x="337.73" y="420.4" font-size="9" fill="#333" text-anchor="middle" font-weight="bold" >300</text>
<line x1="370.9" y1="408.4" x2="370.9" y2="405.4" stroke="#111" stroke-width="1.2"/>
<text x="370.9" y="420.4" font-size="9" fill="#333" text-anchor="middle" font-weight="bold" >400</text>
<line x1="238.2" y1="408.4" x2="238.2" y2="234" stroke="#555" stroke-width="1.35" stroke-dasharray="4.6 3.55"/>
<path d="M149.99 361.66 C150.05 364.57 149.81 367.55 150.19 370.38 C150.56 373.16 150.97 376.31 152.21 378.51 C153.3 380.44 154.87 382.31 156.79 383.11 C158.86 383.97 161.51 382.85 164.39 383.11 C168.22 383.47 172.39 385.04 177.69 385.59 C185.37 386.38 198.5 385.81 206.19 386.18 C211.43 386.44 214.62 386.97 219.39 387.19 C225.01 387.45 236.23 387.46 237.8 387.47 C238.03 387.47 238.07 387.47 238.2 387.47" fill="none" stroke="#4040c8" stroke-width="1.7" stroke-linejoin="round" stroke-linecap="round"/>
<path d="M238.2 387.47 C238.37 386.91 238.11 386.24 238.7 385.8 C240.75 384.25 252.9 385.7 260.43 385.59 C268.56 385.47 278.42 385.42 285.81 385.1 C291.55 384.86 296.82 384.62 301.1 384.09 C304.24 383.7 306.67 382.99 309.19 382.59 C311.39 382.24 313.77 382.47 315.4 381.79 C316.66 381.26 317.6 380.57 318.38 379.45 C319.41 378 319.82 375.56 320.41 373.42 C321.05 371.05 321.73 367.36 322 365.85 C322.11 365.2 322.13 364.92 322.2 364.45" fill="none" stroke="#4040c8" stroke-width="1.7" stroke-linejoin="round" stroke-linecap="round"/>
<path d="M211.1 303.76 C211.44 298.3 211.67 292.02 212.12 287.37 C212.46 283.89 212.02 280.3 213.32 278.3 C214.32 276.77 216.1 276.19 217.9 275.51 C220.07 274.68 223.04 274.64 225.59 274.11 C228.14 273.59 231.04 273.05 233.19 272.37 C234.85 271.84 236.72 271.41 237.5 270.62 C238 270.13 237.97 269.46 238.2 268.88" fill="none" stroke="#222" stroke-width="1.7" stroke-linejoin="round" stroke-linecap="round"/>
<path d="M238.2 268.88 C238.33 270.74 237.56 273.33 238.6 274.46 C239.76 275.72 242.94 275.15 245.5 275.51 C248.68 275.96 253.48 275.86 256.21 276.9 C258.18 277.65 259.81 278.58 260.83 280.04 C261.89 281.57 261.92 283.56 262.29 285.97 C262.83 289.62 262.82 295.27 263.08 299.92" fill="none" stroke="#222" stroke-width="1.7" stroke-linejoin="round" stroke-linecap="round"/>
<path d="M199.58 274.46 C199.86 272.95 199.68 270.64 200.41 269.93 C200.92 269.43 201.87 269.53 202.6 269.58 C203.36 269.63 203.8 270.14 204.89 270.28 C207.44 270.59 213.62 269.81 217.9 269.58 C222.05 269.35 226.79 269.22 230.17 268.88 C232.56 268.64 235 269.17 236.28 268.01 C237.6 266.8 237.45 264.33 237.8 261.56 C238.42 256.71 238.07 248.07 238.2 241.32" fill="none" stroke="#d2292d" stroke-width="1.7" stroke-linejoin="round" stroke-linecap="round"/>
<path d="M238.2 241.32 C238.29 250.51 237.53 265.54 238.47 268.88 C238.69 269.69 238.67 269.9 239.29 270.28 C241.31 271.48 250.53 270.63 256.21 270.97 C262.01 271.32 267.89 271.9 273.73 272.37" fill="none" stroke="#d2292d" stroke-width="1.7" stroke-linejoin="round" stroke-linecap="round"/>
<rect x="105.5" y="234" width="265.4" height="174.4" fill="none" stroke="#222" stroke-width="1.4"/>
<rect x="112.3" y="239" width="55.5" height="26" fill="#fff"/>
<line x1="112.7" y1="242.6" x2="123.3" y2="242.6" stroke="#dc4a4e" stroke-width="1.3"/>
<text x="125.9" y="245.4" font-size="7.74" fill="#333" text-anchor="start" font-weight="normal" >PE potential</text>
<line x1="112.7" y1="252.6" x2="123.3" y2="252.6" stroke="#5252cc" stroke-width="1.3"/>
<text x="125.9" y="255.4" font-size="7.74" fill="#333" text-anchor="start" font-weight="normal" >NE potential</text>
<line x1="112.7" y1="262.6" x2="123.3" y2="262.6" stroke="#4a4a4a" stroke-width="1.3"/>
<text x="125.9" y="265.4" font-size="7.74" fill="#333" text-anchor="start" font-weight="normal" >Cell voltage</text>
<rect x="298.58" y="239.7" width="66.22" height="17.45" fill="#fff"/>
<text x="363.1" y="246.5" font-size="9.55" fill="#222" text-anchor="end" font-weight="normal">N/P ratio : 0.86</text>
<text x="363.8" y="256.8" font-size="9.55" fill="#222" text-anchor="end" font-weight="normal">(3ENP09)</text>
<rect x="321.8" y="299.5" width="37.63" height="6.2" fill="#fff"/>
<text x="322.6" y="305.5" font-size="9.0" fill="#d8333a" text-anchor="start" font-weight="normal"  stroke="#d8333a" stroke-width="0.2">4290 mV</text>
<rect x="294.9" y="309.7" width="69" height="5.58" fill="#fff"/>
<text x="295.7" y="314.9" font-size="7.92" fill="#222" text-anchor="start" font-weight="normal"  stroke="#222" stroke-width="0.2">Fully charged state</text>
<rect x="301.2" y="321.7" width="34.49" height="6.2" fill="#fff"/>
<text x="302" y="327.7" font-size="8.8" fill="#3c3cc8" text-anchor="start" font-weight="normal"  stroke="#3c3cc8" stroke-width="0.2">90.0 mV</text>
<line x1="320.2" y1="297.4" x2="246.63" y2="245.93" stroke="#4a4a4a" stroke-width="0.85"/>
<path d="M241.3 242.2 L249.05 244.21 L245.84 248.79 Z" fill="#4a4a4a"/>
<line x1="301.25" y1="326.25" x2="244.74" y2="379.3" stroke="#4a4a4a" stroke-width="0.85"/>
<path d="M240 383.75 L243.55 376.58 L247.38 380.66 Z" fill="#4a4a4a"/>
<text x="147.4" y="402.9" font-size="8.6" fill="#2a2a2a" text-anchor="start" font-weight="normal" >Charge</text>
<line x1="179.7" y1="400" x2="220.8" y2="400" stroke="#222" stroke-width="1.25"/>
<path d="M227.8 400 L219.8 402.5 L219.8 397.5 Z" fill="#222"/>
<line x1="244.7" y1="400" x2="286.1" y2="400" stroke="#222" stroke-width="1.25"/>
<path d="M293.1 400 L285.1 402.5 L285.1 397.5 Z" fill="#222"/>
<text x="298.9" y="402.9" font-size="8.6" fill="#2a2a2a" text-anchor="start" font-weight="normal" >Discharge</text>
<rect x="348.4" y="388.9" width="19" height="5" fill="#fff"/>
<text x="358.1" y="401.4" font-size="14.2" fill="#333" text-anchor="middle" font-weight="normal" textLength="16" lengthAdjust="spacingAndGlyphs">(d)</text>
<text x="237.9" y="433" font-size="8.0" fill="#222" text-anchor="middle" font-weight="bold" textLength="215" lengthAdjust="spacingAndGlyphs">Specific capacity (mAh g<tspan dy="-2.6" font-size="5.2">-1</tspan><tspan dy="2.6">–</tspan>LFP, graphite or LFP&amp;graphite)</text>
<text transform="translate(75 319.7) rotate(-90)" font-size="8.72" fill="#222" text-anchor="middle" font-weight="bold">Potential vs. Li/Li<tspan baseline-shift="super" font-size="5.5">+</tspan> or Cell voltage (V)</text>
<line x1="419.3" y1="390.96" x2="684.7" y2="390.96" stroke="#b4b4b4" stroke-width="1" stroke-dasharray="1.2 0.9"/>
<line x1="419.3" y1="373.52" x2="684.7" y2="373.52" stroke="#b4b4b4" stroke-width="1" stroke-dasharray="1.2 0.9"/>
<line x1="419.3" y1="356.08" x2="684.7" y2="356.08" stroke="#b4b4b4" stroke-width="1" stroke-dasharray="1.2 0.9"/>
<line x1="419.3" y1="338.64" x2="684.7" y2="338.64" stroke="#b4b4b4" stroke-width="1" stroke-dasharray="1.2 0.9"/>
<line x1="419.3" y1="321.2" x2="684.7" y2="321.2" stroke="#b4b4b4" stroke-width="1" stroke-dasharray="1.2 0.9"/>
<line x1="419.3" y1="303.76" x2="684.7" y2="303.76" stroke="#b4b4b4" stroke-width="1" stroke-dasharray="1.2 0.9"/>
<line x1="419.3" y1="286.32" x2="684.7" y2="286.32" stroke="#b4b4b4" stroke-width="1" stroke-dasharray="1.2 0.9"/>
<line x1="419.3" y1="268.88" x2="684.7" y2="268.88" stroke="#b4b4b4" stroke-width="1" stroke-dasharray="1.2 0.9"/>
<line x1="419.3" y1="251.44" x2="684.7" y2="251.44" stroke="#b4b4b4" stroke-width="1" stroke-dasharray="1.2 0.9"/>
<line x1="419.3" y1="408.4" x2="422.3" y2="408.4" stroke="#111" stroke-width="1.2"/>
<text x="409.1" y="411.6" font-size="9" fill="#333" text-anchor="end" font-weight="bold" >-0.5</text>
<line x1="419.3" y1="390.96" x2="422.3" y2="390.96" stroke="#111" stroke-width="1.2"/>
<text x="409.1" y="394.16" font-size="9" fill="#333" text-anchor="end" font-weight="bold" >0</text>
<line x1="419.3" y1="373.52" x2="422.3" y2="373.52" stroke="#111" stroke-width="1.2"/>
<text x="409.1" y="376.72" font-size="9" fill="#333" text-anchor="end" font-weight="bold" >0.5</text>
<line x1="419.3" y1="356.08" x2="422.3" y2="356.08" stroke="#111" stroke-width="1.2"/>
<text x="409.1" y="359.28" font-size="9" fill="#333" text-anchor="end" font-weight="bold" >1.0</text>
<line x1="419.3" y1="338.64" x2="422.3" y2="338.64" stroke="#111" stroke-width="1.2"/>
<text x="409.1" y="341.84" font-size="9" fill="#333" text-anchor="end" font-weight="bold" >1.5</text>
<line x1="419.3" y1="321.2" x2="422.3" y2="321.2" stroke="#111" stroke-width="1.2"/>
<text x="409.1" y="324.4" font-size="9" fill="#333" text-anchor="end" font-weight="bold" >2.0</text>
<line x1="419.3" y1="303.76" x2="422.3" y2="303.76" stroke="#111" stroke-width="1.2"/>
<text x="409.1" y="306.96" font-size="9" fill="#333" text-anchor="end" font-weight="bold" >2.5</text>
<line x1="419.3" y1="286.32" x2="422.3" y2="286.32" stroke="#111" stroke-width="1.2"/>
<text x="409.1" y="289.52" font-size="9" fill="#333" text-anchor="end" font-weight="bold" >3.0</text>
<line x1="419.3" y1="268.88" x2="422.3" y2="268.88" stroke="#111" stroke-width="1.2"/>
<text x="409.1" y="272.08" font-size="9" fill="#333" text-anchor="end" font-weight="bold" >3.5</text>
<line x1="419.3" y1="251.44" x2="422.3" y2="251.44" stroke="#111" stroke-width="1.2"/>
<text x="409.1" y="254.64" font-size="9" fill="#333" text-anchor="end" font-weight="bold" >4.0</text>
<line x1="419.3" y1="234" x2="422.3" y2="234" stroke="#111" stroke-width="1.2"/>
<text x="409.1" y="237.2" font-size="9" fill="#333" text-anchor="end" font-weight="bold" >4.5</text>
<line x1="419.3" y1="408.4" x2="419.3" y2="405.4" stroke="#111" stroke-width="1.2"/>
<text x="419.3" y="420.4" font-size="9" fill="#333" text-anchor="middle" font-weight="bold" >-400</text>
<line x1="452.48" y1="408.4" x2="452.48" y2="405.4" stroke="#111" stroke-width="1.2"/>
<text x="452.48" y="420.4" font-size="9" fill="#333" text-anchor="middle" font-weight="bold" >-300</text>
<line x1="485.65" y1="408.4" x2="485.65" y2="405.4" stroke="#111" stroke-width="1.2"/>
<text x="485.65" y="420.4" font-size="9" fill="#333" text-anchor="middle" font-weight="bold" >-200</text>
<line x1="518.83" y1="408.4" x2="518.83" y2="405.4" stroke="#111" stroke-width="1.2"/>
<text x="518.83" y="420.4" font-size="9" fill="#333" text-anchor="middle" font-weight="bold" >-100</text>
<line x1="552" y1="408.4" x2="552" y2="405.4" stroke="#111" stroke-width="1.2"/>
<text x="552" y="420.4" font-size="9" fill="#333" text-anchor="middle" font-weight="bold" >0</text>
<line x1="585.17" y1="408.4" x2="585.17" y2="405.4" stroke="#111" stroke-width="1.2"/>
<text x="585.17" y="420.4" font-size="9" fill="#333" text-anchor="middle" font-weight="bold" >100</text>
<line x1="618.35" y1="408.4" x2="618.35" y2="405.4" stroke="#111" stroke-width="1.2"/>
<text x="618.35" y="420.4" font-size="9" fill="#333" text-anchor="middle" font-weight="bold" >200</text>
<line x1="651.52" y1="408.4" x2="651.52" y2="405.4" stroke="#111" stroke-width="1.2"/>
<text x="651.52" y="420.4" font-size="9" fill="#333" text-anchor="middle" font-weight="bold" >300</text>
<line x1="684.7" y1="408.4" x2="684.7" y2="405.4" stroke="#111" stroke-width="1.2"/>
<text x="684.7" y="420.4" font-size="9" fill="#333" text-anchor="middle" font-weight="bold" >400</text>
<line x1="552" y1="408.4" x2="552" y2="234" stroke="#555" stroke-width="1.35" stroke-dasharray="4.6 3.55"/>
<path d="M475.8 361.66 C476.13 364.92 476.22 368.46 476.79 371.43 C477.29 374 477.7 376.55 478.82 378.51 C479.82 380.26 481.07 381.98 482.9 382.8 C485.11 383.8 488.46 382.77 491.59 383.11 C495.32 383.52 498.7 384.88 503.76 385.38 C511.99 386.19 530.74 385.14 536.41 385.8 C538.44 386.03 538.79 386.5 540.49 386.7 C543.2 387.02 549.67 386.87 551.2 386.88 C551.62 386.88 551.73 386.88 552 386.88" fill="none" stroke="#4040c8" stroke-width="1.7" stroke-linejoin="round" stroke-linecap="round"/>
<path d="M552 386.88 C552.56 386.45 552.72 385.93 553.69 385.59 C556.8 384.5 568.35 385.3 575.49 385.1 C582.38 384.9 589.88 384.89 595.79 384.4 C600.41 384.02 604.2 383.25 608.1 382.8 C611.62 382.39 615.75 383.14 618.18 381.79 C620.17 380.69 621.29 378.57 622.3 376.48 C623.42 374.15 623.85 370.89 624.29 368.29 C624.68 365.98 624.71 363.87 624.92 361.66" fill="none" stroke="#4040c8" stroke-width="1.7" stroke-linejoin="round" stroke-linecap="round"/>
<path d="M526.79 303.76 C527.1 298.3 527.31 292.02 527.72 287.37 C528.02 283.89 527.42 280.36 528.78 278.3 C529.9 276.59 532.1 275.95 534.22 275.16 C536.79 274.2 540.41 274.02 543.31 273.41 C545.99 272.85 549.71 272.63 551 271.67 C551.66 271.19 551.67 270.51 552 269.93" fill="none" stroke="#222" stroke-width="1.7" stroke-linejoin="round" stroke-linecap="round"/>
<path d="M552 269.93 C552.17 271.44 551.6 273.51 552.5 274.46 C553.54 275.57 556.28 275.12 558.6 275.51 C561.67 276.02 566.57 276.23 569.32 277.25 C571.25 277.97 572.88 278.59 573.9 280.04 C575.1 281.76 575.06 284.42 575.39 287.37 C575.87 291.73 575.59 298.3 575.69 303.76" fill="none" stroke="#222" stroke-width="1.7" stroke-linejoin="round" stroke-linecap="round"/>
<path d="M514.61 274.11 C514.91 272.72 514.7 270.65 515.51 269.93 C516.23 269.28 517.33 269.66 518.89 269.58 C522.36 269.4 530.56 269.91 535.71 269.58 C540.12 269.3 545.22 268.7 547.92 268.01 C549.32 267.65 550.34 267.61 551 266.79 C551.82 265.78 551.64 264.11 551.83 261.9 C552.23 257.37 551.94 247.95 552 240.98" fill="none" stroke="#d2292d" stroke-width="1.7" stroke-linejoin="round" stroke-linecap="round"/>
<path d="M552 240.98 C552.09 250.28 551.92 265.87 552.27 268.88 C552.33 269.47 552.14 269.63 552.5 269.93 C554.08 271.26 567.99 270.64 573.9 270.97 C578.08 271.21 582.52 271.23 584.61 271.67 C585.52 271.86 585.99 271.97 586.5 272.37 C587.03 272.78 587.3 273.53 587.7 274.11" fill="none" stroke="#d2292d" stroke-width="1.7" stroke-linejoin="round" stroke-linecap="round"/>
<rect x="419.3" y="234" width="265.4" height="174.4" fill="none" stroke="#222" stroke-width="1.4"/>
<rect x="426.1" y="239" width="55.5" height="26" fill="#fff"/>
<line x1="426.5" y1="242.6" x2="437.1" y2="242.6" stroke="#dc4a4e" stroke-width="1.3"/>
<text x="439.7" y="245.4" font-size="7.74" fill="#333" text-anchor="start" font-weight="normal" >PE potential</text>
<line x1="426.5" y1="252.6" x2="437.1" y2="252.6" stroke="#5252cc" stroke-width="1.3"/>
<text x="439.7" y="255.4" font-size="7.74" fill="#333" text-anchor="start" font-weight="normal" >NE potential</text>
<line x1="426.5" y1="262.6" x2="437.1" y2="262.6" stroke="#4a4a4a" stroke-width="1.3"/>
<text x="439.7" y="265.4" font-size="7.74" fill="#333" text-anchor="start" font-weight="normal" >Cell voltage</text>
<rect x="613.88" y="239.7" width="66.02" height="17.45" fill="#fff"/>
<text x="678.4" y="246.5" font-size="9.55" fill="#222" text-anchor="end" font-weight="normal">N/P ratio : 0.97</text>
<text x="678.9" y="256.8" font-size="9.55" fill="#222" text-anchor="end" font-weight="normal">(3ENP10)</text>
<rect x="634.8" y="293.1" width="37.63" height="6.2" fill="#fff"/>
<text x="635.6" y="299.1" font-size="9.0" fill="#d8333a" text-anchor="start" font-weight="normal"  stroke="#d8333a" stroke-width="0.2">4290 mV</text>
<rect x="607.5" y="301.6" width="69" height="5.58" fill="#fff"/>
<text x="608.3" y="306.8" font-size="7.92" fill="#222" text-anchor="start" font-weight="normal"  stroke="#222" stroke-width="0.2">Fully charged state</text>
<rect x="617.3" y="313.2" width="32.05" height="6.2" fill="#fff"/>
<text x="618.1" y="319.2" font-size="8.8" fill="#3c3cc8" text-anchor="start" font-weight="normal"  stroke="#3c3cc8" stroke-width="0.2">100 mV</text>
<line x1="633.3" y1="288.3" x2="561.78" y2="245.63" stroke="#4a4a4a" stroke-width="0.85"/>
<path d="M556.2 242.3 L564.08 243.74 L561.21 248.55 Z" fill="#4a4a4a"/>
<line x1="619.2" y1="321.5" x2="558.7" y2="379.26" stroke="#4a4a4a" stroke-width="0.85"/>
<path d="M554 383.75 L557.49 376.55 L561.36 380.6 Z" fill="#4a4a4a"/>
<text x="461.2" y="402.9" font-size="8.6" fill="#2a2a2a" text-anchor="start" font-weight="normal" >Charge</text>
<line x1="493.5" y1="400" x2="534.6" y2="400" stroke="#222" stroke-width="1.25"/>
<path d="M541.6 400 L533.6 402.5 L533.6 397.5 Z" fill="#222"/>
<line x1="558.5" y1="400" x2="599.9" y2="400" stroke="#222" stroke-width="1.25"/>
<path d="M606.9 400 L598.9 402.5 L598.9 397.5 Z" fill="#222"/>
<text x="612.7" y="402.9" font-size="8.6" fill="#2a2a2a" text-anchor="start" font-weight="normal" >Discharge</text>
<rect x="662.2" y="388.9" width="19" height="5" fill="#fff"/>
<text x="671.9" y="401.4" font-size="14.2" fill="#333" text-anchor="middle" font-weight="normal" textLength="16" lengthAdjust="spacingAndGlyphs">(e)</text>
<text x="551.7" y="433" font-size="8.0" fill="#222" text-anchor="middle" font-weight="bold" textLength="215" lengthAdjust="spacingAndGlyphs">Specific capacity (mAh g<tspan dy="-2.6" font-size="5.2">-1</tspan><tspan dy="2.6">–</tspan>LFP, graphite or LFP&amp;graphite)</text>
<text transform="translate(388.8 319.7) rotate(-90)" font-size="8.72" fill="#222" text-anchor="middle" font-weight="bold">Potential vs. Li/Li<tspan baseline-shift="super" font-size="5.5">+</tspan> or Cell voltage (V)</text>
<line x1="734.5" y1="390.96" x2="999.9" y2="390.96" stroke="#b4b4b4" stroke-width="1" stroke-dasharray="1.2 0.9"/>
<line x1="734.5" y1="373.52" x2="999.9" y2="373.52" stroke="#b4b4b4" stroke-width="1" stroke-dasharray="1.2 0.9"/>
<line x1="734.5" y1="356.08" x2="999.9" y2="356.08" stroke="#b4b4b4" stroke-width="1" stroke-dasharray="1.2 0.9"/>
<line x1="734.5" y1="338.64" x2="999.9" y2="338.64" stroke="#b4b4b4" stroke-width="1" stroke-dasharray="1.2 0.9"/>
<line x1="734.5" y1="321.2" x2="999.9" y2="321.2" stroke="#b4b4b4" stroke-width="1" stroke-dasharray="1.2 0.9"/>
<line x1="734.5" y1="303.76" x2="999.9" y2="303.76" stroke="#b4b4b4" stroke-width="1" stroke-dasharray="1.2 0.9"/>
<line x1="734.5" y1="286.32" x2="999.9" y2="286.32" stroke="#b4b4b4" stroke-width="1" stroke-dasharray="1.2 0.9"/>
<line x1="734.5" y1="268.88" x2="999.9" y2="268.88" stroke="#b4b4b4" stroke-width="1" stroke-dasharray="1.2 0.9"/>
<line x1="734.5" y1="251.44" x2="999.9" y2="251.44" stroke="#b4b4b4" stroke-width="1" stroke-dasharray="1.2 0.9"/>
<line x1="734.5" y1="408.4" x2="737.5" y2="408.4" stroke="#111" stroke-width="1.2"/>
<text x="724.3" y="411.6" font-size="9" fill="#333" text-anchor="end" font-weight="bold" >-0.5</text>
<line x1="734.5" y1="390.96" x2="737.5" y2="390.96" stroke="#111" stroke-width="1.2"/>
<text x="724.3" y="394.16" font-size="9" fill="#333" text-anchor="end" font-weight="bold" >0</text>
<line x1="734.5" y1="373.52" x2="737.5" y2="373.52" stroke="#111" stroke-width="1.2"/>
<text x="724.3" y="376.72" font-size="9" fill="#333" text-anchor="end" font-weight="bold" >0.5</text>
<line x1="734.5" y1="356.08" x2="737.5" y2="356.08" stroke="#111" stroke-width="1.2"/>
<text x="724.3" y="359.28" font-size="9" fill="#333" text-anchor="end" font-weight="bold" >1.0</text>
<line x1="734.5" y1="338.64" x2="737.5" y2="338.64" stroke="#111" stroke-width="1.2"/>
<text x="724.3" y="341.84" font-size="9" fill="#333" text-anchor="end" font-weight="bold" >1.5</text>
<line x1="734.5" y1="321.2" x2="737.5" y2="321.2" stroke="#111" stroke-width="1.2"/>
<text x="724.3" y="324.4" font-size="9" fill="#333" text-anchor="end" font-weight="bold" >2.0</text>
<line x1="734.5" y1="303.76" x2="737.5" y2="303.76" stroke="#111" stroke-width="1.2"/>
<text x="724.3" y="306.96" font-size="9" fill="#333" text-anchor="end" font-weight="bold" >2.5</text>
<line x1="734.5" y1="286.32" x2="737.5" y2="286.32" stroke="#111" stroke-width="1.2"/>
<text x="724.3" y="289.52" font-size="9" fill="#333" text-anchor="end" font-weight="bold" >3.0</text>
<line x1="734.5" y1="268.88" x2="737.5" y2="268.88" stroke="#111" stroke-width="1.2"/>
<text x="724.3" y="272.08" font-size="9" fill="#333" text-anchor="end" font-weight="bold" >3.5</text>
<line x1="734.5" y1="251.44" x2="737.5" y2="251.44" stroke="#111" stroke-width="1.2"/>
<text x="724.3" y="254.64" font-size="9" fill="#333" text-anchor="end" font-weight="bold" >4.0</text>
<line x1="734.5" y1="234" x2="737.5" y2="234" stroke="#111" stroke-width="1.2"/>
<text x="724.3" y="237.2" font-size="9" fill="#333" text-anchor="end" font-weight="bold" >4.5</text>
<line x1="734.5" y1="408.4" x2="734.5" y2="405.4" stroke="#111" stroke-width="1.2"/>
<text x="734.5" y="420.4" font-size="9" fill="#333" text-anchor="middle" font-weight="bold" >-400</text>
<line x1="767.67" y1="408.4" x2="767.67" y2="405.4" stroke="#111" stroke-width="1.2"/>
<text x="767.67" y="420.4" font-size="9" fill="#333" text-anchor="middle" font-weight="bold" >-300</text>
<line x1="800.85" y1="408.4" x2="800.85" y2="405.4" stroke="#111" stroke-width="1.2"/>
<text x="800.85" y="420.4" font-size="9" fill="#333" text-anchor="middle" font-weight="bold" >-200</text>
<line x1="834.02" y1="408.4" x2="834.02" y2="405.4" stroke="#111" stroke-width="1.2"/>
<text x="834.02" y="420.4" font-size="9" fill="#333" text-anchor="middle" font-weight="bold" >-100</text>
<line x1="867.2" y1="408.4" x2="867.2" y2="405.4" stroke="#111" stroke-width="1.2"/>
<text x="867.2" y="420.4" font-size="9" fill="#333" text-anchor="middle" font-weight="bold" >0</text>
<line x1="900.38" y1="408.4" x2="900.38" y2="405.4" stroke="#111" stroke-width="1.2"/>
<text x="900.38" y="420.4" font-size="9" fill="#333" text-anchor="middle" font-weight="bold" >100</text>
<line x1="933.55" y1="408.4" x2="933.55" y2="405.4" stroke="#111" stroke-width="1.2"/>
<text x="933.55" y="420.4" font-size="9" fill="#333" text-anchor="middle" font-weight="bold" >200</text>
<line x1="966.73" y1="408.4" x2="966.73" y2="405.4" stroke="#111" stroke-width="1.2"/>
<text x="966.73" y="420.4" font-size="9" fill="#333" text-anchor="middle" font-weight="bold" >300</text>
<line x1="999.9" y1="408.4" x2="999.9" y2="405.4" stroke="#111" stroke-width="1.2"/>
<text x="999.9" y="420.4" font-size="9" fill="#333" text-anchor="middle" font-weight="bold" >400</text>
<line x1="867.2" y1="408.4" x2="867.2" y2="234" stroke="#555" stroke-width="1.35" stroke-dasharray="4.6 3.55"/>
<path d="M812.59 360.61 C812.73 363.75 812.59 366.96 812.99 370.03 C813.39 373.05 813.63 376.79 814.98 378.89 C816.04 380.53 817.25 381.41 819.39 382.24 C823.37 383.79 831.36 383.47 838.3 383.98 C846.81 384.62 864.49 385.53 866.7 385.59 C867 385.6 867.03 385.59 867.2 385.59" fill="none" stroke="#4040c8" stroke-width="1.7" stroke-linejoin="round" stroke-linecap="round"/>
<path d="M867.2 385.59 C867.31 385.05 867.01 384.43 867.53 383.98 C869.64 382.19 886.44 383.25 893.91 382.8 C899.43 382.47 904.97 383.45 908.3 381.72 C910.77 380.43 912.2 378 913.31 375.61 C914.51 373.05 914.62 369.41 915.01 366.72 C915.32 364.5 915.4 362.65 915.6 360.61" fill="none" stroke="#4040c8" stroke-width="1.7" stroke-linejoin="round" stroke-linecap="round"/>
<path d="M846.8 303.76 C847.13 298.3 847.16 292.11 847.79 287.37 C848.28 283.67 848.1 279.76 849.82 277.6 C851.31 275.72 854.34 275.22 856.68 274.46 C858.95 273.73 861.96 274.05 863.62 273.07 C864.88 272.32 865.61 270.69 866.27 269.93 C866.66 269.48 866.89 269.23 867.2 268.88" fill="none" stroke="#222" stroke-width="1.7" stroke-linejoin="round" stroke-linecap="round"/>
<path d="M867.2 268.88 C867.27 270.74 866.5 273.37 867.4 274.46 C868.23 275.46 870.4 274.96 872.01 275.51 C873.92 276.16 876.14 277.58 878.05 278.3 C879.67 278.91 881.56 278.62 882.69 279.69 C884.03 280.95 884.48 283.29 884.98 285.97 C885.8 290.34 885.25 297.83 885.38 303.76" fill="none" stroke="#222" stroke-width="1.7" stroke-linejoin="round" stroke-linecap="round"/>
<path d="M834.49 274.11 C834.85 272.6 834.65 270.44 835.58 269.58 C836.49 268.74 838.25 269.11 839.9 268.88 C842.07 268.58 844.84 268.24 847.49 268.01 C850.41 267.76 853.78 267.9 856.68 267.48 C859.35 267.11 862.67 266.82 864.28 265.74 C865.35 265.03 865.76 264.45 866.27 262.95 C867.62 259.02 866.89 247.25 867.2 239.41" fill="none" stroke="#d2292d" stroke-width="1.7" stroke-linejoin="round" stroke-linecap="round"/>
<path d="M867.2 239.41 C867.29 249.23 866.48 265.8 867.47 268.88 C867.67 269.52 867.69 269.65 868.2 269.93 C869.82 270.8 877.08 270.09 881.2 270.28 C884.95 270.45 889.55 269.95 891.92 270.97 C893.37 271.6 893.91 272.83 894.9 273.76" fill="none" stroke="#d2292d" stroke-width="1.7" stroke-linejoin="round" stroke-linecap="round"/>
<rect x="734.5" y="234" width="265.4" height="174.4" fill="none" stroke="#222" stroke-width="1.4"/>
<rect x="741.3" y="239" width="55.5" height="26" fill="#fff"/>
<line x1="741.7" y1="242.6" x2="752.3" y2="242.6" stroke="#dc4a4e" stroke-width="1.3"/>
<text x="754.9" y="245.4" font-size="7.74" fill="#333" text-anchor="start" font-weight="normal" >PE potential</text>
<line x1="741.7" y1="252.6" x2="752.3" y2="252.6" stroke="#5252cc" stroke-width="1.3"/>
<text x="754.9" y="255.4" font-size="7.74" fill="#333" text-anchor="start" font-weight="normal" >NE potential</text>
<line x1="741.7" y1="262.6" x2="752.3" y2="262.6" stroke="#4a4a4a" stroke-width="1.3"/>
<text x="754.9" y="265.4" font-size="7.74" fill="#333" text-anchor="start" font-weight="normal" >Cell voltage</text>
<rect x="927.18" y="239.7" width="66.22" height="17.45" fill="#fff"/>
<text x="991.7" y="246.5" font-size="9.55" fill="#222" text-anchor="end" font-weight="normal">N/P ratio : 1.17</text>
<text x="992.4" y="256.8" font-size="9.55" fill="#222" text-anchor="end" font-weight="normal">(3ENP12)</text>
<rect x="950.2" y="289.5" width="37.63" height="6.2" fill="#fff"/>
<text x="951" y="295.5" font-size="9.0" fill="#d8333a" text-anchor="start" font-weight="normal"  stroke="#d8333a" stroke-width="0.2">4350 mV</text>
<rect x="921.5" y="299.6" width="69" height="5.58" fill="#fff"/>
<text x="922.3" y="304.8" font-size="7.92" fill="#222" text-anchor="start" font-weight="normal"  stroke="#222" stroke-width="0.2">Fully charged state</text>
<rect x="930.9" y="311.2" width="32.05" height="6.2" fill="#fff"/>
<text x="931.7" y="317.2" font-size="8.8" fill="#3c3cc8" text-anchor="start" font-weight="normal"  stroke="#3c3cc8" stroke-width="0.2">150 mV</text>
<line x1="949.3" y1="287.3" x2="876.42" y2="245.06" stroke="#4a4a4a" stroke-width="0.85"/>
<path d="M870.8 241.8 L878.69 243.14 L875.88 247.98 Z" fill="#4a4a4a"/>
<line x1="931.2" y1="319.5" x2="871.59" y2="379.15" stroke="#4a4a4a" stroke-width="0.85"/>
<path d="M867 383.75 L870.32 376.47 L874.28 380.42 Z" fill="#4a4a4a"/>
<text x="776.4" y="402.9" font-size="8.6" fill="#2a2a2a" text-anchor="start" font-weight="normal" >Charge</text>
<line x1="808.7" y1="400" x2="849.8" y2="400" stroke="#222" stroke-width="1.25"/>
<path d="M856.8 400 L848.8 402.5 L848.8 397.5 Z" fill="#222"/>
<line x1="873.7" y1="400" x2="915.1" y2="400" stroke="#222" stroke-width="1.25"/>
<path d="M922.1 400 L914.1 402.5 L914.1 397.5 Z" fill="#222"/>
<text x="927.9" y="402.9" font-size="8.6" fill="#2a2a2a" text-anchor="start" font-weight="normal" >Discharge</text>
<rect x="977.4" y="388.9" width="19" height="5" fill="#fff"/>
<text x="987.1" y="401.4" font-size="14.2" fill="#333" text-anchor="middle" font-weight="normal" textLength="16" lengthAdjust="spacingAndGlyphs">(f)</text>
<text x="866.9" y="433" font-size="8.0" fill="#222" text-anchor="middle" font-weight="bold" textLength="215" lengthAdjust="spacingAndGlyphs">Specific capacity (mAh g<tspan dy="-2.6" font-size="5.2">-1</tspan><tspan dy="2.6">–</tspan>LFP, graphite or LFP&amp;graphite)</text>
<text transform="translate(704 319.7) rotate(-90)" font-size="8.72" fill="#222" text-anchor="middle" font-weight="bold">Potential vs. Li/Li<tspan baseline-shift="super" font-size="5.5">+</tspan> or Cell voltage (V)</text>
</svg>
<div class="cap" id="c1" style="left:50.3px;top:447.2px;transform:scaleX(1.0594)">Positive and negative electrode potentials, and cell voltage of LFP/graphite three-electrode cells at a 0.1 C-rate: (a) 3ENP09 in the first cycle, (b) 3ENP10 in</div>
<div class="cap" id="c2" style="left:2.6px;top:466.2px;transform:scaleX(1.0689)">the first cycle, (c) 3ENP12 in the first cycle, (d) 3ENP09 in the second cycle, (e) 3ENP10 in the second cycle and (f) 3ENP12 in the second cycle.</div>
<div class="wm" id="wm" style="left:901.5px;top:460px;transform:scaleX(1.38)">ybx8.cn</div>
</body></html>
